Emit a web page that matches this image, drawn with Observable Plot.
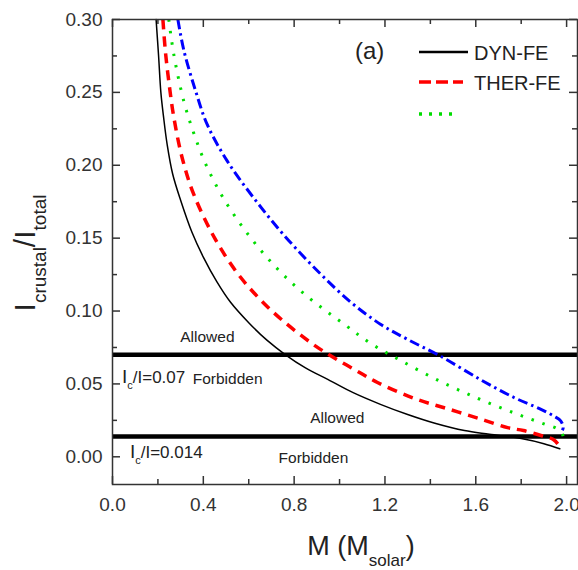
<!DOCTYPE html>
<html><head><meta charset="utf-8">
<script src="https://cdn.jsdelivr.net/npm/d3@7"></script>
<script src="https://cdn.jsdelivr.net/npm/@observablehq/plot@0.6"></script>
<style>html,body{margin:0;padding:0;background:#fff}</style>
</head><body><div id="chart"></div>
<script>
// ---- data ----
const dynM = [0.192,0.203,0.213,0.225,0.241,0.265,0.30,0.35,0.40,0.46,0.52,0.60,0.68,0.762,0.85,0.95,1.06,1.18,1.30,1.42,1.55,1.66,1.80,1.90,1.97];
const dynI = [0.30,0.275,0.25,0.233,0.214,0.194,0.176,0.154,0.137,0.120,0.106,0.092,0.080,0.070,0.061,0.053,0.044,0.036,0.029,0.023,0.018,0.0155,0.0125,0.009,0.0055];
const therM = [0.222,0.233,0.25,0.27,0.307,0.358,0.45,0.55,0.65,0.753,0.885,0.97,1.07,1.167,1.33,1.475,1.62,1.74,1.81,1.90,1.94,1.965,1.97];
const therI = [0.30,0.278,0.255,0.233,0.205,0.180,0.150,0.126,0.108,0.093,0.077,0.0685,0.0595,0.051,0.040,0.033,0.026,0.020,0.018,0.014,0.012,0.008,0.006];
const greenM = [0.248,0.27,0.314,0.358,0.41,0.49,0.60,0.72,0.85,1.02,1.14,1.27,1.44,1.61,1.77,1.90,1.96,1.985,1.98];
const greenI = [0.30,0.276,0.244,0.222,0.201,0.177,0.152,0.130,0.111,0.091,0.0775,0.066,0.052,0.040,0.030,0.0226,0.019,0.014,0.011];
const blueM = [0.288,0.314,0.366,0.417,0.505,0.62,0.75,0.90,1.05,1.18,1.30,1.445,1.62,1.768,1.885,1.943,1.974,1.985,1.98];
const blueI = [0.30,0.279,0.251,0.228,0.203,0.178,0.153,0.128,0.106,0.091,0.0805,0.069,0.053,0.0407,0.0327,0.028,0.0247,0.020,0.018];

const limitValues = [0.07, 0.014];
const ratioLabels = ["0.07", "0.014"];
const ratioM = [0.044, 0.079];
const ratioV = [0.0501, -0.0012];
const noteText = ["Allowed", "Forbidden", "Allowed", "Forbidden"];
const noteM = [0.418, 0.507, 0.99, 0.885];
const noteV = [0.0823, 0.0535, 0.0267, -0.0007];

const xMajor = [0, 0.4, 0.8, 1.2, 1.6, 2.0];
const xMinor = [0.2, 0.6, 1.0, 1.4, 1.8];
const yMajor = [0, 0.05, 0.10, 0.15, 0.20, 0.25, 0.30];
const yMinor = [0.025, 0.075, 0.125, 0.175, 0.225, 0.275];

const legendNames = ["DYN-FE", "THER-FE", ""];

// ---- layout ----
const W = 578, H = 570, ML = 112, MR = 1, MT = 19, MB = 86;
const PW = W - ML - MR, PH = H - MT - MB;
const FONT = "'Liberation Sans', Arial, Helvetica, sans-serif";

const toRows = (ms, vs) => ms.map((m, i) => ({m, v: vs[i]}));
const series = [
  {rows: toRows(dynM, dynI), stroke: "#000", width: 1.5, dash: null},
  {rows: toRows(therM, therI), stroke: "#ff0000", width: 3.5, dash: "10,7"},
  {rows: toRows(greenM, greenI), stroke: "#00dd00", width: 3, dash: "2.5,9"},
  {rows: toRows(blueM, blueI), stroke: "#0000ff", width: 3, dash: "10,4,2.5,4"}
];

const notes = noteText.map((t, i) => ({t, m: noteM[i], v: noteV[i]}));

const plot = Plot.plot({
  width: W, height: H,
  marginLeft: ML, marginRight: MR, marginTop: MT, marginBottom: MB,
  style: {fontFamily: FONT, fontSize: "19px", color: "#333", background: "#fff"},
  x: {domain: [0, 2.048]},
  y: {domain: [-0.019, 0.30]},
  marks: [
    Plot.ruleY(limitValues, {stroke: "#000", strokeWidth: 4.5}),
    ...series.map(s => Plot.line(s.rows, {x: "m", y: "v", stroke: s.stroke, strokeWidth: s.width,
      strokeDasharray: s.dash, curve: "catmull-rom", strokeLinecap: s.dash ? "butt" : "round"})),
    Plot.text(notes, {x: "m", y: "v", text: "t", fontSize: 15.5, fill: "#222"}),
    // inward ticks
    Plot.tickX(xMajor, {x: d => d, insetTop: PH - 8, stroke: "#333", strokeWidth: 1.5}),
    Plot.tickX(xMajor, {x: d => d, insetBottom: PH - 8, stroke: "#333", strokeWidth: 1.5}),
    Plot.tickX(xMinor, {x: d => d, insetTop: PH - 5, stroke: "#333", strokeWidth: 1.5}),
    Plot.tickX(xMinor, {x: d => d, insetBottom: PH - 5, stroke: "#333", strokeWidth: 1.5}),
    Plot.tickY(yMajor, {y: d => d, insetRight: PW - 8, stroke: "#333", strokeWidth: 1.5}),
    Plot.tickY(yMajor, {y: d => d, insetLeft: PW - 8, stroke: "#333", strokeWidth: 1.5}),
    Plot.tickY(yMinor, {y: d => d, insetRight: PW - 5, stroke: "#333", strokeWidth: 1.5}),
    Plot.tickY(yMinor, {y: d => d, insetLeft: PW - 5, stroke: "#333", strokeWidth: 1.5}),
    Plot.axisX({ticks: xMajor, tickFormat: d3.format(".1f"), tickSize: 0, tickPadding: 13, label: null}),
    Plot.axisY({ticks: yMajor, tickFormat: d3.format(".2f"), tickSize: 0, tickPadding: 10, label: null}),
    Plot.frame({stroke: "#333", strokeWidth: 1.5})
  ]
});

document.getElementById("chart").appendChild(plot);
const svg = d3.select(plot);
const sx = plot.scale("x"), sy = plot.scale("y");

// ratio labels I_c/I=...
ratioLabels.forEach((lab, i) => {
  const t = svg.append("text")
    .attr("x", sx.apply(ratioM[i])).attr("y", sy.apply(ratioV[i]))
    .attr("text-anchor", "start")
    .attr("fill", "#222").attr("font-family", FONT);
  t.append("tspan").attr("font-size", 19).text("I");
  t.append("tspan").attr("font-size", 11).attr("dy", 6).text("c");
  t.append("tspan").attr("font-size", 17).attr("dy", -6).text("/I=" + lab);
});

// axis titles
const xt = svg.append("text").attr("x", 361).attr("y", 555)
  .attr("text-anchor", "middle").attr("fill", "#222").attr("font-family", FONT);
xt.append("tspan").attr("font-size", 27).text("M (M");
xt.append("tspan").attr("font-size", 17).attr("dy", 11).text("solar");
xt.append("tspan").attr("font-size", 27).attr("dy", -11).text(")");

const yt = svg.append("text").attr("transform", "translate(35,253) rotate(-90)")
  .attr("text-anchor", "middle").attr("fill", "#222").attr("font-family", FONT);
yt.append("tspan").attr("font-size", 30).text("I");
yt.append("tspan").attr("font-size", 19).attr("dy", 11).text("crustal");
yt.append("tspan").attr("font-size", 30).attr("dy", -11).text("/I");
yt.append("tspan").attr("font-size", 19).attr("dy", 11).text("total");

// panel label and legend
svg.append("text").attr("x", 355).attr("y", 59).attr("font-size", 24).attr("text-anchor", "start")
  .attr("fill", "#222").attr("font-family", FONT).text("(a)");
const legY = [52, 82, 114];
const legLen = [49, 44, 34];
series.slice(0, 3).forEach((s, i) => {
  svg.append("line").attr("x1", 419).attr("x2", 419 + legLen[i])
    .attr("y1", legY[i]).attr("y2", legY[i])
    .attr("stroke", s.stroke).attr("stroke-width", i === 0 ? 2.5 : 3.5)
    .attr("stroke-dasharray", i === 1 ? "12,5" : i === 2 ? "3,7" : null);
  if (legendNames[i]) svg.append("text").attr("x", 474).attr("y", legY[i] + 8)
    .attr("text-anchor", "start")
    .attr("font-size", 20).attr("fill", "#222").attr("font-family", FONT).text(legendNames[i]);
});
</script></body></html>
